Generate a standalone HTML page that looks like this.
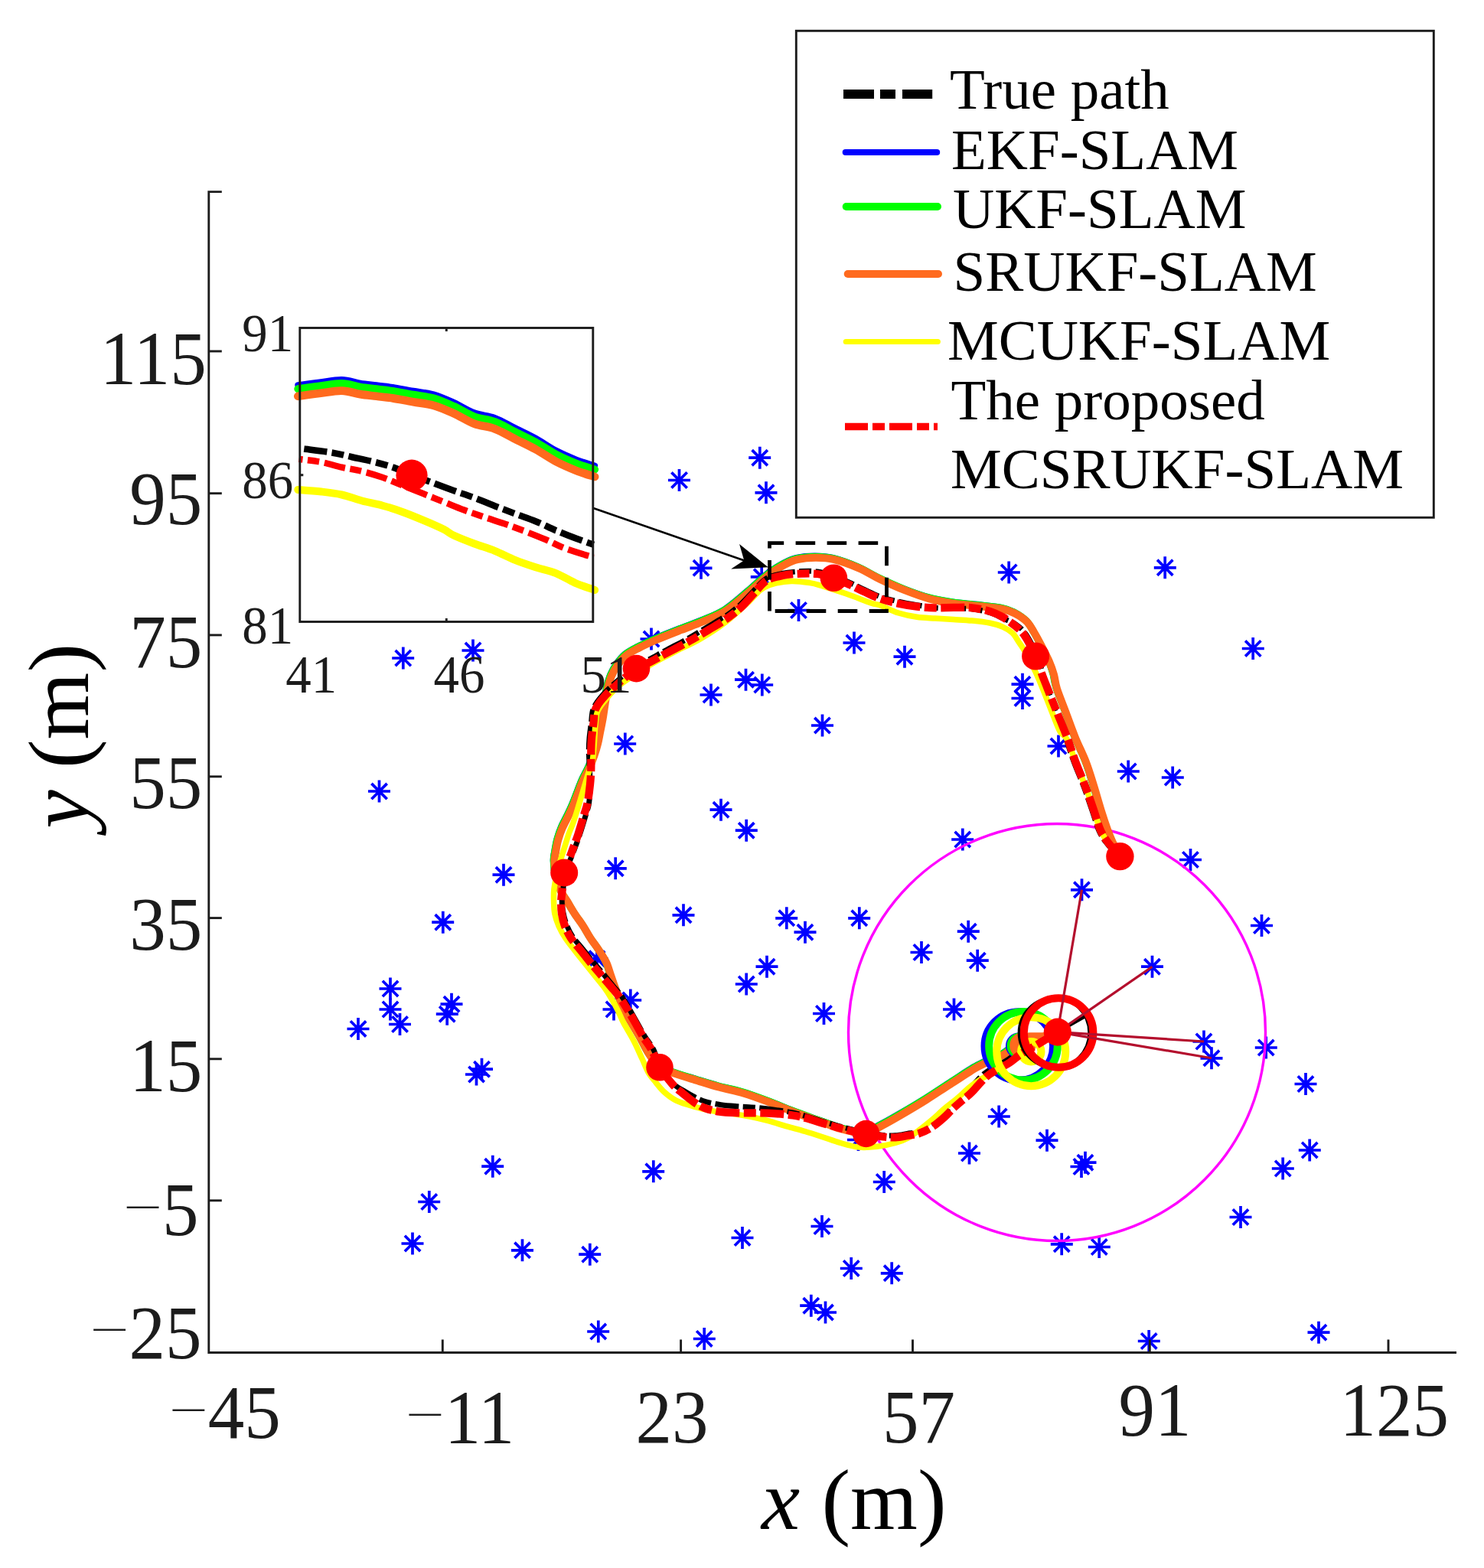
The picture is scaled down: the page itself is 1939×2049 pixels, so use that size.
<!DOCTYPE html>
<html lang="en"><head><meta charset="utf-8"><title>SLAM trajectories</title>
<style>
html,body{margin:0;padding:0;background:#fff;}
body{width:1939px;height:2049px;overflow:hidden;}
svg{display:block;}
text{font-family:"Liberation Serif","DejaVu Serif",serif;}
.tk{fill:#1c1c1c;font-size:98px;}
.ik{fill:#1c1c1c;font-size:69px;}
.lg{fill:#000;font-size:75px;}
.ax{fill:#000;font-size:113px;}
</style></head><body>
<svg width="1939" height="2049" viewBox="0 0 1939 2049" role="img" aria-label="SLAM trajectory comparison">
<rect width="1939" height="2049" fill="#fff"/>
<g id="landmarks" fill="none" stroke="#0000ff" stroke-width="3.7">
<path d="M978.2 598.2h29.0M992.8 583.8v29.0M982.6 588.1l20.30 20.30M982.6 608.4l20.30 -20.30"/>
<path d="M873.0 627.5h29.0M887.5 613.0v29.0M877.4 617.4l20.30 20.30M877.4 637.6l20.30 -20.30"/>
<path d="M986.5 643.8h29.0M1001.0 629.2v29.0M990.9 633.6l20.30 20.30M990.9 653.9l20.30 -20.30"/>
<path d="M901.5 742.3h29.0M916.0 727.8v29.0M905.9 732.1l20.30 20.30M905.9 752.4l20.30 -20.30"/>
<path d="M980.8 753.8h29.0M995.2 739.2v29.0M985.1 743.6l20.30 20.30M985.1 763.9l20.30 -20.30"/>
<path d="M1029.0 797.5h29.0M1043.5 783.0v29.0M1033.3 787.4l20.30 20.30M1033.3 807.6l20.30 -20.30"/>
<path d="M1101.5 840.0h29.0M1116.0 825.5v29.0M1105.8 829.9l20.30 20.30M1105.8 850.1l20.30 -20.30"/>
<path d="M1167.5 858.2h29.0M1182.0 843.8v29.0M1171.8 848.1l20.30 20.30M1171.8 868.4l20.30 -20.30"/>
<path d="M960.0 888.2h29.0M974.5 873.8v29.0M964.4 878.1l20.30 20.30M964.4 898.4l20.30 -20.30"/>
<path d="M981.2 895.0h29.0M995.8 880.5v29.0M985.6 884.9l20.30 20.30M985.6 905.1l20.30 -20.30"/>
<path d="M914.5 908.0h29.0M929.0 893.5v29.0M918.9 897.9l20.30 20.30M918.9 918.1l20.30 -20.30"/>
<path d="M1060.0 948.0h29.0M1074.5 933.5v29.0M1064.3 937.9l20.30 20.30M1064.3 958.1l20.30 -20.30"/>
<path d="M1303.8 748.0h29.0M1318.2 733.5v29.0M1308.1 737.9l20.30 20.30M1308.1 758.1l20.30 -20.30"/>
<path d="M1321.5 894.2h29.0M1336.0 879.8v29.0M1325.8 884.1l20.30 20.30M1325.8 904.4l20.30 -20.30"/>
<path d="M1321.5 912.5h29.0M1336.0 898.0v29.0M1325.8 902.4l20.30 20.30M1325.8 922.6l20.30 -20.30"/>
<path d="M1507.8 741.8h29.0M1522.2 727.2v29.0M1512.1 731.6l20.30 20.30M1512.1 751.9l20.30 -20.30"/>
<path d="M1622.8 847.5h29.0M1637.2 833.0v29.0M1627.1 837.4l20.30 20.30M1627.1 857.6l20.30 -20.30"/>
<path d="M1368.5 975.0h29.0M1383.0 960.5v29.0M1372.8 964.9l20.30 20.30M1372.8 985.1l20.30 -20.30"/>
<path d="M1459.8 1008.0h29.0M1474.2 993.5v29.0M1464.1 997.9l20.30 20.30M1464.1 1018.1l20.30 -20.30"/>
<path d="M1517.8 1016.0h29.0M1532.2 1001.5v29.0M1522.1 1005.9l20.30 20.30M1522.1 1026.2l20.30 -20.30"/>
<path d="M512.2 860.0h29.0M526.8 845.5v29.0M516.6 849.9l20.30 20.30M516.6 870.1l20.30 -20.30"/>
<path d="M603.5 850.0h29.0M618.0 835.5v29.0M607.9 839.9l20.30 20.30M607.9 860.1l20.30 -20.30"/>
<path d="M802.2 972.0h29.0M816.8 957.5v29.0M806.6 961.9l20.30 20.30M806.6 982.1l20.30 -20.30"/>
<path d="M836.5 835.0h29.0M851.0 820.5v29.0M840.9 824.9l20.30 20.30M840.9 845.1l20.30 -20.30"/>
<path d="M481.0 1034.0h29.0M495.5 1019.5v29.0M485.4 1023.9l20.30 20.30M485.4 1044.2l20.30 -20.30"/>
<path d="M643.5 1143.2h29.0M658.0 1128.8v29.0M647.9 1133.1l20.30 20.30M647.9 1153.4l20.30 -20.30"/>
<path d="M564.2 1205.2h29.0M578.8 1190.8v29.0M568.6 1195.1l20.30 20.30M568.6 1215.4l20.30 -20.30"/>
<path d="M789.8 1134.8h29.0M804.2 1120.2v29.0M794.1 1124.6l20.30 20.30M794.1 1144.9l20.30 -20.30"/>
<path d="M878.5 1195.8h29.0M893.0 1181.2v29.0M882.9 1185.6l20.30 20.30M882.9 1205.9l20.30 -20.30"/>
<path d="M495.5 1292.0h29.0M510.0 1277.5v29.0M499.9 1281.8l20.30 20.30M499.9 1302.2l20.30 -20.30"/>
<path d="M495.5 1319.0h29.0M510.0 1304.5v29.0M499.9 1308.8l20.30 20.30M499.9 1329.2l20.30 -20.30"/>
<path d="M508.0 1338.5h29.0M522.5 1324.0v29.0M512.4 1328.3l20.30 20.30M512.4 1348.7l20.30 -20.30"/>
<path d="M453.5 1344.5h29.0M468.0 1330.0v29.0M457.9 1334.3l20.30 20.30M457.9 1354.7l20.30 -20.30"/>
<path d="M575.5 1312.2h29.0M590.0 1297.8v29.0M579.9 1302.1l20.30 20.30M579.9 1322.4l20.30 -20.30"/>
<path d="M569.8 1325.2h29.0M584.2 1310.8v29.0M574.1 1315.1l20.30 20.30M574.1 1335.4l20.30 -20.30"/>
<path d="M615.0 1397.2h29.0M629.5 1382.8v29.0M619.4 1387.1l20.30 20.30M619.4 1407.4l20.30 -20.30"/>
<path d="M608.0 1404.0h29.0M622.5 1389.5v29.0M612.4 1393.8l20.30 20.30M612.4 1414.2l20.30 -20.30"/>
<path d="M765.5 1252.8h29.0M780.0 1238.2v29.0M769.9 1242.6l20.30 20.30M769.9 1262.9l20.30 -20.30"/>
<path d="M809.2 1307.0h29.0M823.8 1292.5v29.0M813.6 1296.8l20.30 20.30M813.6 1317.2l20.30 -20.30"/>
<path d="M787.5 1319.0h29.0M802.0 1304.5v29.0M791.9 1308.8l20.30 20.30M791.9 1329.2l20.30 -20.30"/>
<path d="M927.5 1058.2h29.0M942.0 1043.8v29.0M931.9 1048.1l20.30 20.30M931.9 1068.4l20.30 -20.30"/>
<path d="M960.8 1085.2h29.0M975.2 1070.8v29.0M965.1 1075.1l20.30 20.30M965.1 1095.4l20.30 -20.30"/>
<path d="M1243.2 1097.0h29.0M1257.8 1082.5v29.0M1247.6 1086.8l20.30 20.30M1247.6 1107.2l20.30 -20.30"/>
<path d="M1013.2 1199.8h29.0M1027.8 1185.2v29.0M1017.6 1189.6l20.30 20.30M1017.6 1209.9l20.30 -20.30"/>
<path d="M1037.5 1218.2h29.0M1052.0 1203.8v29.0M1041.8 1208.1l20.30 20.30M1041.8 1228.4l20.30 -20.30"/>
<path d="M1108.2 1199.8h29.0M1122.8 1185.2v29.0M1112.6 1189.6l20.30 20.30M1112.6 1209.9l20.30 -20.30"/>
<path d="M1250.8 1217.2h29.0M1265.2 1202.8v29.0M1255.1 1207.1l20.30 20.30M1255.1 1227.4l20.30 -20.30"/>
<path d="M1189.5 1244.5h29.0M1204.0 1230.0v29.0M1193.8 1234.3l20.30 20.30M1193.8 1254.7l20.30 -20.30"/>
<path d="M1262.8 1255.2h29.0M1277.2 1240.8v29.0M1267.1 1245.1l20.30 20.30M1267.1 1265.4l20.30 -20.30"/>
<path d="M987.5 1263.2h29.0M1002.0 1248.8v29.0M991.9 1253.1l20.30 20.30M991.9 1273.4l20.30 -20.30"/>
<path d="M960.8 1286.0h29.0M975.2 1271.5v29.0M965.1 1275.8l20.30 20.30M965.1 1296.2l20.30 -20.30"/>
<path d="M1062.0 1324.5h29.0M1076.5 1310.0v29.0M1066.3 1314.3l20.30 20.30M1066.3 1334.7l20.30 -20.30"/>
<path d="M1232.0 1319.0h29.0M1246.5 1304.5v29.0M1236.3 1308.8l20.30 20.30M1236.3 1329.2l20.30 -20.30"/>
<path d="M1290.8 1459.0h29.0M1305.2 1444.5v29.0M1295.1 1448.8l20.30 20.30M1295.1 1469.2l20.30 -20.30"/>
<path d="M1252.0 1507.0h29.0M1266.5 1492.5v29.0M1256.3 1496.8l20.30 20.30M1256.3 1517.2l20.30 -20.30"/>
<path d="M1107.0 1489.5h29.0M1121.5 1475.0v29.0M1111.3 1479.3l20.30 20.30M1111.3 1499.7l20.30 -20.30"/>
<path d="M1541.0 1123.5h29.0M1555.5 1109.0v29.0M1545.3 1113.3l20.30 20.30M1545.3 1133.7l20.30 -20.30"/>
<path d="M1399.0 1162.8h29.0M1413.5 1148.2v29.0M1403.3 1152.6l20.30 20.30M1403.3 1172.9l20.30 -20.30"/>
<path d="M1634.0 1209.5h29.0M1648.5 1195.0v29.0M1638.3 1199.3l20.30 20.30M1638.3 1219.7l20.30 -20.30"/>
<path d="M1491.0 1263.2h29.0M1505.5 1248.8v29.0M1495.3 1253.1l20.30 20.30M1495.3 1273.4l20.30 -20.30"/>
<path d="M1558.5 1361.0h29.0M1573.0 1346.5v29.0M1562.8 1350.8l20.30 20.30M1562.8 1371.2l20.30 -20.30"/>
<path d="M1568.5 1382.8h29.0M1583.0 1368.2v29.0M1572.8 1372.6l20.30 20.30M1572.8 1392.9l20.30 -20.30"/>
<path d="M1639.8 1369.0h29.0M1654.2 1354.5v29.0M1644.1 1358.8l20.30 20.30M1644.1 1379.2l20.30 -20.30"/>
<path d="M1691.5 1416.5h29.0M1706.0 1402.0v29.0M1695.8 1406.3l20.30 20.30M1695.8 1426.7l20.30 -20.30"/>
<path d="M1353.5 1490.2h29.0M1368.0 1475.8v29.0M1357.8 1480.1l20.30 20.30M1357.8 1500.4l20.30 -20.30"/>
<path d="M629.2 1524.2h29.0M643.8 1509.8v29.0M633.6 1514.1l20.30 20.30M633.6 1534.4l20.30 -20.30"/>
<path d="M546.2 1570.5h29.0M560.8 1556.0v29.0M550.6 1560.3l20.30 20.30M550.6 1580.7l20.30 -20.30"/>
<path d="M524.5 1625.0h29.0M539.0 1610.5v29.0M528.9 1614.8l20.30 20.30M528.9 1635.2l20.30 -20.30"/>
<path d="M668.0 1633.8h29.0M682.5 1619.2v29.0M672.4 1623.6l20.30 20.30M672.4 1643.9l20.30 -20.30"/>
<path d="M756.2 1639.2h29.0M770.8 1624.8v29.0M760.6 1629.1l20.30 20.30M760.6 1649.4l20.30 -20.30"/>
<path d="M839.2 1530.8h29.0M853.8 1516.2v29.0M843.6 1520.6l20.30 20.30M843.6 1540.9l20.30 -20.30"/>
<path d="M767.2 1740.0h29.0M781.8 1725.5v29.0M771.6 1729.8l20.30 20.30M771.6 1750.2l20.30 -20.30"/>
<path d="M1140.8 1544.5h29.0M1155.2 1530.0v29.0M1145.1 1534.3l20.30 20.30M1145.1 1554.7l20.30 -20.30"/>
<path d="M1059.5 1602.5h29.0M1074.0 1588.0v29.0M1063.8 1592.3l20.30 20.30M1063.8 1612.7l20.30 -20.30"/>
<path d="M955.5 1617.5h29.0M970.0 1603.0v29.0M959.9 1607.3l20.30 20.30M959.9 1627.7l20.30 -20.30"/>
<path d="M1097.8 1657.5h29.0M1112.2 1643.0v29.0M1102.1 1647.3l20.30 20.30M1102.1 1667.7l20.30 -20.30"/>
<path d="M1150.8 1663.8h29.0M1165.2 1649.2v29.0M1155.1 1653.6l20.30 20.30M1155.1 1673.9l20.30 -20.30"/>
<path d="M1045.2 1706.2h29.0M1059.8 1691.8v29.0M1049.6 1696.1l20.30 20.30M1049.6 1716.4l20.30 -20.30"/>
<path d="M1064.0 1715.0h29.0M1078.5 1700.5v29.0M1068.3 1704.8l20.30 20.30M1068.3 1725.2l20.30 -20.30"/>
<path d="M905.8 1749.5h29.0M920.2 1735.0v29.0M910.1 1739.3l20.30 20.30M910.1 1759.7l20.30 -20.30"/>
<path d="M1403.5 1519.2h29.0M1418.0 1504.8v29.0M1407.8 1509.1l20.30 20.30M1407.8 1529.4l20.30 -20.30"/>
<path d="M1398.5 1524.5h29.0M1413.0 1510.0v29.0M1402.8 1514.3l20.30 20.30M1402.8 1534.7l20.30 -20.30"/>
<path d="M1696.8 1503.0h29.0M1711.2 1488.5v29.0M1701.1 1492.8l20.30 20.30M1701.1 1513.2l20.30 -20.30"/>
<path d="M1661.8 1527.0h29.0M1676.2 1512.5v29.0M1666.1 1516.8l20.30 20.30M1666.1 1537.2l20.30 -20.30"/>
<path d="M1606.5 1590.5h29.0M1621.0 1576.0v29.0M1610.8 1580.3l20.30 20.30M1610.8 1600.7l20.30 -20.30"/>
<path d="M1372.8 1625.8h29.0M1387.2 1611.2v29.0M1377.1 1615.6l20.30 20.30M1377.1 1635.9l20.30 -20.30"/>
<path d="M1421.8 1629.5h29.0M1436.2 1615.0v29.0M1426.1 1619.3l20.30 20.30M1426.1 1639.7l20.30 -20.30"/>
<path d="M1486.8 1752.5h29.0M1501.2 1738.0v29.0M1491.1 1742.3l20.30 20.30M1491.1 1762.7l20.30 -20.30"/>
<path d="M1708.5 1741.2h29.0M1723.0 1726.8v29.0M1712.8 1731.1l20.30 20.30M1712.8 1751.4l20.30 -20.30"/>
</g>
<circle cx="1381.0" cy="1349.0" r="272.5" fill="none" stroke="#ff00ff" stroke-width="3.4"/>
<g stroke="#1c1c1c" stroke-width="2.9" fill="none" stroke-linecap="butt">
<path d="M289.8 250.6 H272.8 V1767.5 H1903.0"/>
<path d="M272.8 459.0 h17.0"/>
<path d="M272.8 644.7 h17.0"/>
<path d="M272.8 829.9 h17.0"/>
<path d="M272.8 1014.8 h17.0"/>
<path d="M272.8 1199.6 h17.0"/>
<path d="M272.8 1383.8 h17.0"/>
<path d="M272.8 1568.8 h17.0"/>
<path d="M578.3 1767.5 v-17.0"/>
<path d="M889.6 1767.5 v-17.0"/>
<path d="M1192.5 1767.5 v-17.0"/>
<path d="M1502.3 1767.5 v-17.0"/>
<path d="M1814.0 1767.5 v-17.0"/>
</g>
<text class="tk" transform="translate(269.7 502.0) scale(0.97 1.015)" text-anchor="end">115</text>
<text class="tk" transform="translate(264.3 685.0) scale(0.97 1.015)" text-anchor="end">95</text>
<text class="tk" transform="translate(264.3 871.5) scale(0.97 1.015)" text-anchor="end">75</text>
<text class="tk" transform="translate(264.3 1056.3) scale(0.97 1.015)" text-anchor="end">55</text>
<text class="tk" transform="translate(264.3 1241.0) scale(0.97 1.015)" text-anchor="end">35</text>
<text class="tk" transform="translate(264.3 1426.4) scale(0.97 1.015)" text-anchor="end">15</text>
<text class="tk" transform="translate(259.5 1614.1) scale(0.97 1.015)" text-anchor="end"><tspan dy="-3.5" stroke="#fff" stroke-width="2.4">−</tspan><tspan dy="3.5" dx="-1.5">5</tspan></text>
<text class="tk" transform="translate(263.5 1774.9) scale(0.97 1.015)" text-anchor="end"><tspan dy="-3.5" stroke="#fff" stroke-width="2.4">−</tspan><tspan dy="3.5" dx="-1.5">25</tspan></text>
<text class="tk" transform="translate(219.5 1879.3) scale(0.97 1.015)" text-anchor="start"><tspan dy="-3.5" stroke="#fff" stroke-width="2.4">−</tspan><tspan dy="3.5" dx="-1.5">45</tspan></text>
<text class="tk" transform="translate(528.5 1886.0) scale(0.97 1.015)" text-anchor="start"><tspan dy="-3.5" stroke="#fff" stroke-width="2.4">−</tspan><tspan dy="3.5" dx="-1.5">11</tspan></text>
<text class="tk" transform="translate(830.6 1884.8) scale(0.97 1.015)" text-anchor="start">23</text>
<text class="tk" transform="translate(1153.0 1884.6) scale(0.97 1.015)" text-anchor="start">57</text>
<text class="tk" transform="translate(1461.5 1875.8) scale(0.97 1.015)" text-anchor="start">91</text>
<text class="tk" transform="translate(1750.5 1875.8) scale(0.97 1.015)" text-anchor="start">125</text>
<text class="ax" x="995" y="1998.2"><tspan font-style="italic">x</tspan> (m)</text><text class="ax" transform="translate(115.1 1082.5) rotate(-90)"><tspan font-style="italic">y</tspan> (m)</text>
<path d="M1461.8 1116.9C1460.2 1113.7 1454.6 1103.6 1451.9 1097.8C1449.2 1092.0 1447.8 1088.5 1445.4 1081.8C1443.0 1075.1 1440.3 1067.1 1437.4 1057.8C1434.5 1048.5 1431.2 1036.5 1427.9 1025.8C1424.6 1015.1 1421.5 1004.5 1417.4 993.8C1413.3 983.1 1407.7 972.5 1403.4 961.8C1399.1 951.1 1395.4 940.5 1391.4 929.8C1387.4 919.1 1382.1 906.2 1379.4 897.8C1376.7 889.4 1377.1 885.3 1375.4 879.3C1373.7 873.3 1372.0 868.5 1369.1 861.8C1366.2 855.1 1361.1 845.5 1357.9 839.3C1354.7 833.1 1352.8 829.6 1349.9 824.8C1347.0 820.0 1344.7 814.8 1340.4 810.5C1336.2 806.2 1329.7 802.1 1324.4 799.3C1319.1 796.5 1316.4 795.4 1308.4 793.8C1300.4 792.2 1287.1 791.0 1276.4 789.8C1265.7 788.6 1255.1 788.1 1244.4 786.5C1233.7 784.9 1223.1 783.0 1212.4 780.1C1201.7 777.2 1191.1 773.2 1180.4 769.0C1169.7 764.8 1158.4 759.6 1148.4 754.8C1138.4 750.0 1130.4 744.5 1120.4 740.2C1110.4 735.9 1097.7 731.3 1088.4 729.0C1079.1 726.7 1072.4 726.6 1064.4 726.6C1056.4 726.6 1047.1 727.5 1040.4 729.0C1033.7 730.5 1029.7 732.7 1024.4 735.4C1019.1 738.1 1013.7 741.3 1008.4 745.0C1003.1 748.7 997.7 753.3 992.4 757.8C987.1 762.3 984.1 765.8 976.4 772.2C968.7 778.6 956.4 789.9 946.4 796.3C936.4 802.6 926.1 806.2 916.4 810.3C906.7 814.4 898.3 817.1 888.3 821.0C878.3 824.9 865.6 829.8 856.3 833.8C847.0 837.8 839.0 841.5 832.3 845.0C825.6 848.5 820.8 850.9 816.3 854.6C811.8 858.3 808.3 862.9 805.1 867.4C801.9 871.9 799.2 876.7 797.1 881.8C795.0 886.9 793.6 891.9 792.3 897.8C791.0 903.6 790.2 910.2 789.1 916.9C788.0 923.5 787.0 931.6 785.9 937.7C784.8 943.8 783.8 948.4 782.7 953.7C781.6 959.0 780.8 964.4 779.5 969.7C778.2 975.0 776.6 980.4 774.7 985.7C772.8 991.0 770.7 996.4 768.3 1001.7C765.9 1007.0 762.7 1012.4 760.3 1017.7C757.9 1023.0 756.0 1028.4 753.9 1033.7C751.8 1039.0 749.7 1044.7 747.6 1049.7C745.5 1054.7 743.6 1058.8 741.2 1063.8C738.8 1068.8 735.5 1074.5 733.2 1079.8C730.9 1085.1 729.1 1090.5 727.6 1095.8C726.1 1101.1 725.2 1107.0 724.4 1111.8C723.6 1116.6 722.6 1118.9 722.8 1124.6C723.0 1130.3 723.9 1139.4 725.4 1145.8C726.9 1152.2 729.2 1157.9 731.6 1162.9C734.0 1167.9 736.7 1170.9 739.6 1175.7C742.5 1180.5 745.8 1186.4 749.2 1191.7C752.6 1197.0 756.8 1202.4 760.3 1207.7C763.8 1213.0 766.4 1218.4 769.9 1223.7C773.4 1229.0 777.6 1234.4 781.1 1239.7C784.6 1245.0 788.2 1250.4 790.7 1255.7C793.2 1261.0 794.4 1266.4 796.3 1271.7C798.2 1277.0 799.9 1282.4 801.9 1287.7C803.9 1293.0 806.2 1298.4 808.3 1303.7C810.4 1309.0 812.3 1314.9 814.7 1319.7C817.0 1324.5 819.1 1327.2 822.4 1332.8C825.7 1338.3 830.5 1346.2 834.4 1353.0C838.3 1359.8 841.3 1367.2 845.6 1373.8C849.9 1380.4 854.5 1388.1 860.4 1392.6C866.3 1397.1 873.1 1398.2 880.8 1400.9C888.4 1403.6 896.7 1406.0 906.3 1408.9C915.9 1411.8 927.6 1415.6 938.3 1418.5C949.0 1421.4 959.6 1423.3 970.3 1426.5C981.0 1429.7 991.6 1433.7 1002.3 1437.7C1013.0 1441.7 1025.0 1446.9 1034.3 1450.5C1043.6 1454.1 1051.0 1456.7 1058.3 1459.3C1065.7 1461.9 1072.1 1464.0 1078.4 1466.3C1084.8 1468.5 1090.2 1471.0 1096.4 1472.8C1102.6 1474.6 1109.8 1476.2 1115.4 1477.3C1121.0 1478.4 1124.1 1480.7 1130.0 1479.3C1135.9 1477.9 1143.0 1473.0 1150.7 1468.9C1158.4 1464.8 1166.7 1460.1 1176.3 1454.5C1185.9 1448.9 1197.6 1442.0 1208.3 1435.3C1219.0 1428.6 1229.7 1421.3 1240.3 1414.5C1250.9 1407.7 1264.2 1398.8 1271.7 1394.3C1279.2 1389.8 1280.7 1389.6 1285.1 1387.4C1289.6 1385.2 1294.3 1383.2 1298.4 1381.3C1302.5 1379.4 1306.3 1378.1 1309.6 1376.2C1312.9 1374.3 1315.8 1372.0 1318.4 1369.8C1321.0 1367.6 1322.7 1365.2 1325.0 1362.8C1327.3 1360.4 1331.2 1356.5 1332.4 1355.3" fill="none" stroke="#0000ff" stroke-width="8" stroke-linejoin="round" />
<path d="M1462.4 1117.7C1460.8 1114.5 1455.2 1104.4 1452.5 1098.6C1449.8 1092.8 1448.4 1089.3 1446.0 1082.6C1443.6 1075.9 1440.9 1067.9 1438.0 1058.6C1435.1 1049.3 1431.8 1037.3 1428.5 1026.6C1425.2 1015.9 1422.1 1005.3 1418.0 994.6C1413.9 983.9 1408.3 973.3 1404.0 962.6C1399.7 951.9 1396.0 941.3 1392.0 930.6C1388.0 919.9 1382.7 907.0 1380.0 898.6C1377.3 890.2 1377.7 886.1 1376.0 880.1C1374.3 874.1 1372.6 869.3 1369.7 862.6C1366.8 855.9 1361.7 846.3 1358.5 840.1C1355.3 833.9 1353.4 830.4 1350.5 825.6C1347.6 820.8 1345.2 815.6 1341.0 811.3C1336.8 807.1 1330.3 802.9 1325.0 800.1C1319.7 797.3 1317.0 796.2 1309.0 794.6C1301.0 793.0 1287.7 791.8 1277.0 790.6C1266.3 789.4 1255.7 788.9 1245.0 787.3C1234.3 785.7 1223.7 783.8 1213.0 780.9C1202.3 778.0 1191.7 774.0 1181.0 769.8C1170.3 765.6 1159.0 760.4 1149.0 755.6C1139.0 750.8 1131.0 745.3 1121.0 741.0C1111.0 736.7 1098.3 732.1 1089.0 729.8C1079.7 727.5 1073.0 727.4 1065.0 727.4C1057.0 727.4 1047.7 728.3 1041.0 729.8C1034.3 731.3 1030.3 733.5 1025.0 736.2C1019.7 738.9 1014.3 742.1 1009.0 745.8C1003.7 749.5 998.3 754.1 993.0 758.6C987.7 763.1 984.7 766.6 977.0 773.0C969.3 779.4 957.0 790.8 947.0 797.1C937.0 803.5 926.7 807.0 917.0 811.1C907.3 815.2 898.9 817.9 888.9 821.8C878.9 825.7 866.2 830.6 856.9 834.6C847.6 838.6 839.6 842.3 832.9 845.8C826.2 849.3 821.4 851.7 816.9 855.4C812.4 859.1 808.9 863.7 805.7 868.2C802.5 872.7 799.8 877.5 797.7 882.6C795.6 887.7 794.2 892.8 792.9 898.6C791.6 904.5 790.8 911.1 789.7 917.7C788.6 924.4 787.6 932.4 786.5 938.5C785.4 944.6 784.4 949.2 783.3 954.5C782.2 959.8 781.4 965.2 780.1 970.5C778.8 975.8 777.2 981.2 775.3 986.5C773.4 991.8 771.3 997.2 768.9 1002.5C766.5 1007.8 763.3 1013.2 760.9 1018.5C758.5 1023.8 756.6 1029.2 754.5 1034.5C752.4 1039.8 750.3 1045.5 748.2 1050.5C746.1 1055.5 744.2 1059.6 741.8 1064.6C739.4 1069.6 736.1 1075.3 733.8 1080.6C731.5 1085.9 729.7 1091.3 728.2 1096.6C726.7 1101.9 725.8 1107.8 725.0 1112.6C724.2 1117.4 723.2 1119.7 723.4 1125.4C723.6 1131.1 724.5 1140.2 726.0 1146.6C727.5 1153.0 729.8 1158.7 732.2 1163.7C734.6 1168.7 737.3 1171.7 740.2 1176.5C743.1 1181.3 746.3 1187.2 749.8 1192.5C753.2 1197.8 757.4 1203.2 760.9 1208.5C764.4 1213.8 767.0 1219.2 770.5 1224.5C774.0 1229.8 778.2 1235.2 781.7 1240.5C785.2 1245.8 788.8 1251.2 791.3 1256.5C793.8 1261.8 795.0 1267.2 796.9 1272.5C798.8 1277.8 800.5 1283.2 802.5 1288.5C804.5 1293.8 806.8 1299.2 808.9 1304.5C811.0 1309.8 812.9 1315.7 815.3 1320.5C817.6 1325.3 819.7 1328.0 823.0 1333.6C826.3 1339.1 831.1 1347.0 835.0 1353.8C838.9 1360.6 841.9 1368.0 846.2 1374.6C850.5 1381.2 855.1 1388.9 861.0 1393.4C866.9 1397.9 873.8 1399.0 881.4 1401.7C889.0 1404.4 897.3 1406.8 906.9 1409.7C916.5 1412.6 928.2 1416.4 938.9 1419.3C949.6 1422.2 960.2 1424.1 970.9 1427.3C981.6 1430.5 992.2 1434.5 1002.9 1438.5C1013.6 1442.5 1025.6 1447.7 1034.9 1451.3C1044.2 1454.9 1051.6 1457.5 1058.9 1460.1C1066.2 1462.7 1072.7 1464.8 1079.0 1467.1C1085.3 1469.3 1090.8 1471.8 1097.0 1473.6C1103.2 1475.4 1110.4 1477.0 1116.0 1478.1C1121.6 1479.2 1124.7 1481.5 1130.6 1480.1C1136.5 1478.7 1143.6 1473.8 1151.3 1469.7C1159.0 1465.6 1167.3 1460.9 1176.9 1455.3C1186.5 1449.7 1198.2 1442.8 1208.9 1436.1C1219.6 1429.4 1230.3 1422.1 1240.9 1415.3C1251.5 1408.5 1264.8 1399.6 1272.3 1395.1C1279.8 1390.6 1281.2 1390.4 1285.7 1388.2C1290.2 1386.0 1294.9 1384.0 1299.0 1382.1C1303.1 1380.2 1306.9 1378.9 1310.2 1377.0C1313.5 1375.1 1316.4 1372.8 1319.0 1370.6C1321.6 1368.4 1323.3 1366.0 1325.6 1363.6C1327.9 1361.2 1331.8 1357.3 1333.0 1356.1" fill="none" stroke="#00ff00" stroke-width="9.5" stroke-linejoin="round" />
<path d="M1463.4 1119.1C1461.8 1115.9 1456.2 1105.8 1453.5 1100.0C1450.8 1094.2 1449.4 1090.7 1447.0 1084.0C1444.6 1077.3 1441.9 1069.3 1439.0 1060.0C1436.1 1050.7 1432.8 1038.7 1429.5 1028.0C1426.2 1017.3 1423.1 1006.7 1419.0 996.0C1414.9 985.3 1409.3 974.7 1405.0 964.0C1400.7 953.3 1397.0 942.7 1393.0 932.0C1389.0 921.3 1383.7 908.4 1381.0 900.0C1378.3 891.6 1378.7 887.5 1377.0 881.5C1375.3 875.5 1373.6 870.7 1370.7 864.0C1367.8 857.3 1362.7 847.7 1359.5 841.5C1356.3 835.3 1354.4 831.8 1351.5 827.0C1348.6 822.2 1346.2 817.0 1342.0 812.7C1337.8 808.5 1331.3 804.3 1326.0 801.5C1320.7 798.7 1318.0 797.6 1310.0 796.0C1302.0 794.4 1288.7 793.2 1278.0 792.0C1267.3 790.8 1256.7 790.3 1246.0 788.7C1235.3 787.1 1224.7 785.2 1214.0 782.3C1203.3 779.4 1192.7 775.4 1182.0 771.2C1171.3 767.0 1160.0 761.8 1150.0 757.0C1140.0 752.2 1132.0 746.7 1122.0 742.4C1112.0 738.1 1099.3 733.5 1090.0 731.2C1080.7 728.9 1074.0 728.8 1066.0 728.8C1058.0 728.8 1048.7 729.7 1042.0 731.2C1035.3 732.7 1031.3 734.9 1026.0 737.6C1020.7 740.3 1015.3 743.5 1010.0 747.2C1004.7 750.9 999.3 755.5 994.0 760.0C988.7 764.5 985.7 768.0 978.0 774.4C970.3 780.8 958.0 792.1 948.0 798.5C938.0 804.9 927.7 808.4 918.0 812.5C908.3 816.6 899.9 819.3 889.9 823.2C879.9 827.1 867.2 832.0 857.9 836.0C848.6 840.0 840.6 843.7 833.9 847.2C827.2 850.7 822.4 853.1 817.9 856.8C813.4 860.5 809.9 865.1 806.7 869.6C803.5 874.1 800.8 878.9 798.7 884.0C796.6 889.1 795.2 894.1 793.9 900.0C792.6 905.9 791.8 912.5 790.7 919.1C789.6 925.8 788.6 933.8 787.5 939.9C786.4 946.0 785.4 950.6 784.3 955.9C783.2 961.2 782.4 966.6 781.1 971.9C779.8 977.2 778.2 982.6 776.3 987.9C774.4 993.2 772.3 998.6 769.9 1003.9C767.5 1009.2 764.3 1014.6 761.9 1019.9C759.5 1025.2 757.6 1030.6 755.5 1035.9C753.4 1041.2 751.3 1046.9 749.2 1051.9C747.1 1056.9 745.2 1061.0 742.8 1066.0C740.4 1071.0 737.1 1076.7 734.8 1082.0C732.5 1087.3 730.7 1092.7 729.2 1098.0C727.7 1103.3 726.8 1109.2 726.0 1114.0C725.2 1118.8 724.2 1121.1 724.4 1126.8C724.6 1132.5 725.5 1141.6 727.0 1148.0C728.5 1154.4 730.8 1160.1 733.2 1165.1C735.6 1170.1 738.3 1173.1 741.2 1177.9C744.1 1182.7 747.3 1188.6 750.8 1193.9C754.2 1199.2 758.4 1204.6 761.9 1209.9C765.4 1215.2 768.0 1220.6 771.5 1225.9C775.0 1231.2 779.2 1236.6 782.7 1241.9C786.2 1247.2 789.8 1252.6 792.3 1257.9C794.8 1263.2 796.0 1268.6 797.9 1273.9C799.8 1279.2 801.5 1284.6 803.5 1289.9C805.5 1295.2 807.8 1300.6 809.9 1305.9C812.0 1311.2 813.9 1317.1 816.3 1321.9C818.6 1326.8 820.7 1329.5 824.0 1335.0C827.3 1340.5 832.1 1348.4 836.0 1355.2C839.9 1362.0 842.9 1369.4 847.2 1376.0C851.5 1382.6 856.1 1390.3 862.0 1394.8C867.9 1399.3 874.8 1400.4 882.4 1403.1C890.0 1405.8 898.3 1408.2 907.9 1411.1C917.5 1414.0 929.2 1417.8 939.9 1420.7C950.6 1423.6 961.2 1425.5 971.9 1428.7C982.6 1431.9 993.2 1435.9 1003.9 1439.9C1014.6 1443.9 1026.6 1449.1 1035.9 1452.7C1045.2 1456.3 1052.6 1458.9 1059.9 1461.5C1067.2 1464.1 1073.7 1466.2 1080.0 1468.5C1086.3 1470.8 1091.8 1473.2 1098.0 1475.0C1104.2 1476.8 1111.4 1478.4 1117.0 1479.5C1122.6 1480.6 1125.7 1482.9 1131.6 1481.5C1137.5 1480.1 1144.6 1475.2 1152.3 1471.1C1160.0 1467.0 1168.3 1462.3 1177.9 1456.7C1187.5 1451.1 1199.2 1444.2 1209.9 1437.5C1220.6 1430.8 1231.3 1423.5 1241.9 1416.7C1252.5 1409.9 1265.8 1401.0 1273.3 1396.5C1280.8 1392.0 1282.2 1391.8 1286.7 1389.6C1291.2 1387.4 1295.9 1385.4 1300.0 1383.5C1304.1 1381.6 1307.9 1380.3 1311.2 1378.4C1314.5 1376.5 1317.4 1374.2 1320.0 1372.0C1322.6 1369.8 1324.3 1367.4 1326.6 1365.0C1328.9 1362.6 1331.4 1359.2 1334.0 1357.5C1336.6 1355.8 1339.0 1355.0 1342.0 1354.5C1345.0 1354.0 1348.2 1354.4 1352.0 1354.3C1355.8 1354.2 1361.0 1354.5 1365.0 1354.0C1369.0 1353.5 1374.2 1351.5 1376.0 1351.0" fill="none" stroke="#ff6a1e" stroke-width="10" stroke-linejoin="round" />
<path d="M1461.4 1119.6C1458.7 1116.4 1449.3 1106.3 1445.0 1100.5C1440.7 1094.7 1438.4 1091.2 1435.5 1084.5C1432.6 1077.8 1430.7 1069.8 1427.5 1060.5C1424.3 1051.2 1420.3 1039.2 1416.3 1028.5C1412.3 1017.8 1407.5 1007.2 1403.5 996.5C1399.5 985.8 1396.3 975.2 1392.4 964.5C1388.5 953.8 1384.0 943.2 1380.1 932.5C1376.2 921.8 1371.7 908.8 1368.8 900.0C1365.9 891.2 1364.8 887.2 1362.5 880.0C1360.2 872.8 1358.7 865.5 1355.1 857.0C1351.5 848.5 1345.3 836.1 1340.7 829.3C1336.1 822.5 1332.6 819.6 1327.5 816.0C1322.4 812.4 1315.6 810.4 1310.0 807.8C1304.4 805.2 1300.7 802.6 1294.0 800.6C1287.3 798.6 1278.0 796.7 1270.0 795.8C1262.0 794.9 1254.0 795.6 1246.0 795.4C1238.0 795.1 1230.0 795.1 1222.0 794.3C1214.0 793.5 1206.0 792.1 1198.0 790.7C1190.0 789.4 1182.0 788.0 1174.0 786.2C1166.0 784.4 1157.5 782.4 1150.0 779.8C1142.5 777.1 1135.4 773.3 1128.8 770.3C1122.2 767.2 1117.1 764.4 1110.5 761.5C1103.9 758.6 1096.5 755.1 1089.4 752.7C1082.3 750.3 1075.2 748.0 1068.0 747.0C1060.8 746.0 1053.9 746.2 1046.2 746.6C1038.5 747.0 1029.3 747.9 1021.7 749.5C1014.1 751.1 1006.7 752.6 1000.5 756.4C994.3 760.2 989.9 766.9 984.5 772.4C979.1 777.9 973.8 784.3 968.0 789.5C962.2 794.7 957.3 798.8 950.0 803.8C942.7 808.8 932.4 814.5 924.0 819.5C915.6 824.5 908.2 829.3 899.6 834.1C891.0 838.9 880.9 844.0 872.4 848.5C863.9 853.0 855.9 857.6 848.9 861.3C841.9 865.0 838.8 864.8 830.5 870.6C822.2 876.4 807.1 889.4 799.4 896.3C791.7 903.1 788.6 906.6 784.5 911.7C780.4 916.8 776.9 921.6 774.9 927.1C772.9 932.6 773.3 938.6 772.5 944.7C771.7 950.8 770.6 958.0 770.1 963.9C769.6 969.8 769.3 973.2 769.3 979.9C769.3 986.6 770.0 996.4 770.3 1003.9C770.6 1011.4 771.1 1017.3 771.0 1025.0C770.9 1032.7 770.5 1043.2 769.5 1050.0C768.5 1056.8 767.1 1059.0 765.2 1065.5C763.3 1072.0 760.6 1081.1 758.0 1089.0C755.4 1096.9 752.4 1104.6 749.3 1113.0C746.2 1121.4 741.5 1131.2 739.2 1139.4C737.0 1147.6 736.6 1155.6 735.8 1162.0C735.0 1168.4 734.2 1172.8 734.2 1177.9C734.2 1183.1 735.0 1187.7 736.0 1192.9C737.0 1198.1 738.4 1203.7 740.5 1208.9C742.6 1214.2 745.0 1219.2 748.5 1224.4C752.0 1229.6 757.0 1234.7 761.2 1239.9C765.5 1245.2 769.6 1250.6 774.0 1255.9C778.4 1261.2 783.1 1266.5 787.6 1271.9C792.1 1277.3 796.8 1283.0 801.2 1288.4C805.6 1293.8 809.9 1298.3 814.0 1304.4C818.1 1310.5 822.5 1318.9 826.0 1325.0C829.5 1331.1 832.2 1336.0 835.0 1341.0C837.8 1346.0 839.8 1349.9 843.0 1355.0C846.2 1360.1 850.7 1365.2 854.0 1371.8C857.3 1378.3 858.6 1386.8 863.0 1394.3C867.4 1401.8 875.0 1411.3 880.2 1416.5C885.4 1421.7 889.3 1422.8 894.0 1425.7C898.7 1428.6 903.5 1431.5 908.3 1433.9C913.1 1436.3 917.1 1438.3 922.7 1439.9C928.3 1441.5 935.0 1442.7 941.9 1443.7C948.8 1444.7 956.2 1445.2 963.9 1445.8C971.6 1446.4 979.9 1446.6 987.9 1447.3C995.9 1448.0 1003.9 1449.0 1011.9 1450.1C1019.9 1451.2 1028.8 1452.5 1035.9 1454.0C1043.0 1455.5 1048.3 1457.2 1054.5 1459.0C1060.7 1460.8 1065.9 1462.9 1073.0 1465.0C1080.1 1467.1 1089.8 1469.9 1097.0 1471.8C1104.2 1473.7 1110.4 1475.3 1116.2 1476.6C1122.0 1477.9 1125.3 1478.3 1131.6 1479.5C1137.9 1480.7 1147.6 1482.8 1154.0 1483.5C1160.4 1484.2 1164.8 1484.1 1170.0 1483.8C1175.2 1483.5 1180.3 1482.3 1185.5 1481.4C1190.7 1480.5 1195.8 1480.2 1201.0 1478.2C1206.2 1476.2 1211.3 1473.2 1216.5 1469.7C1221.7 1466.2 1227.7 1460.9 1232.0 1456.9C1236.3 1452.9 1238.8 1449.5 1242.6 1445.7C1246.4 1441.9 1251.0 1437.6 1254.9 1434.0C1258.8 1430.4 1261.2 1428.9 1266.1 1423.9C1271.0 1418.9 1278.8 1409.2 1284.5 1404.2C1290.2 1399.2 1294.8 1397.1 1300.0 1394.0C1305.2 1390.9 1310.3 1388.8 1315.6 1385.5C1320.8 1382.2 1324.8 1378.1 1331.5 1374.3C1338.2 1370.5 1347.6 1366.8 1356.0 1362.5C1364.4 1358.2 1377.5 1350.9 1381.8 1348.6" fill="none" stroke="#000000" stroke-width="7" stroke-linejoin="round" pathLength="2061.6" stroke-dasharray="31 5.5 16 5.5" stroke-dashoffset="1"/>
<circle cx="1331.0" cy="1366.6" r="12.0" fill="none" stroke="#0000ff" stroke-width="10"/>
<circle cx="1331.3" cy="1367.0" r="44.8" fill="none" stroke="#0000ff" stroke-width="10"/>
<circle cx="1332.6" cy="1366.6" r="12.0" fill="none" stroke="#00ff00" stroke-width="10"/>
<circle cx="1337.0" cy="1366.7" r="44.8" fill="none" stroke="#00ff00" stroke-width="10"/>
<circle cx="1336.3" cy="1366.2" r="12.0" fill="none" stroke="#ff6a1e" stroke-width="10"/>
<path d="M1463.4 1119.1C1460.7 1115.9 1451.3 1105.8 1447.0 1100.0C1442.7 1094.2 1440.4 1090.7 1437.5 1084.0C1434.6 1077.3 1432.7 1069.3 1429.5 1060.0C1426.3 1050.7 1422.3 1038.7 1418.3 1028.0C1414.3 1017.3 1409.5 1006.3 1405.5 996.0C1401.5 985.7 1397.4 972.7 1394.0 966.0C1390.6 959.3 1388.2 961.7 1385.0 956.0C1381.8 950.3 1378.8 941.3 1375.0 932.0C1371.2 922.7 1366.1 909.0 1362.4 900.0C1358.8 891.0 1356.0 884.6 1353.1 878.3C1350.2 872.0 1347.7 867.1 1345.0 862.0C1342.3 856.9 1339.5 851.9 1337.1 847.9C1334.7 843.9 1333.1 841.8 1330.7 838.3C1328.3 834.8 1326.2 830.3 1322.7 827.1C1319.2 823.9 1314.8 821.2 1310.0 819.1C1305.2 817.0 1300.7 815.6 1294.0 814.3C1287.3 813.0 1278.0 811.9 1270.0 811.1C1262.0 810.3 1254.0 810.0 1246.0 809.5C1238.0 809.0 1230.0 808.5 1222.0 808.0C1214.0 807.5 1206.0 807.5 1198.0 806.3C1190.0 805.1 1182.0 803.5 1174.0 801.0C1166.0 798.5 1156.0 793.2 1150.0 791.0C1144.0 788.8 1145.3 790.5 1138.0 788.0C1130.7 785.5 1116.7 779.7 1106.0 776.0C1095.3 772.3 1082.0 768.0 1074.0 765.6C1066.0 763.2 1064.7 762.6 1058.0 761.6C1051.3 760.6 1042.0 759.2 1034.0 759.5C1026.0 759.8 1016.7 761.3 1010.0 763.2C1003.3 765.1 999.3 766.8 994.0 770.7C988.7 774.6 986.0 779.4 978.0 786.7C970.0 794.0 956.7 806.4 946.0 814.5C935.3 822.6 924.2 829.6 914.0 835.5C903.8 841.4 894.4 845.2 885.0 850.0C875.6 854.8 866.2 859.3 857.9 864.0C849.6 868.7 843.0 872.8 835.0 878.0C827.0 883.2 816.8 889.6 809.9 895.1C803.0 900.6 798.7 905.5 793.9 911.1C789.1 916.7 783.8 922.6 781.1 928.7C778.4 934.8 778.7 940.7 777.9 947.9C777.1 955.1 777.0 963.9 776.3 971.9C775.6 979.9 775.2 989.2 773.9 995.9C772.6 1002.6 770.0 1006.6 768.3 1011.9C766.6 1017.2 765.1 1022.6 763.5 1027.9C761.9 1033.2 760.3 1038.6 758.7 1043.9C757.1 1049.2 755.6 1054.3 754.0 1059.5C752.4 1064.7 750.8 1069.9 749.0 1075.0C747.2 1080.1 744.8 1084.8 743.0 1090.0C741.2 1095.2 739.7 1100.7 738.0 1106.0C736.3 1111.3 734.7 1116.3 733.0 1122.0C731.3 1127.7 729.5 1133.3 728.0 1140.0C726.5 1146.7 724.6 1155.7 723.9 1162.0C723.2 1168.3 723.5 1172.6 723.6 1177.9C723.8 1183.2 723.7 1188.6 724.8 1193.9C725.9 1199.2 727.7 1204.6 730.0 1209.9C732.3 1215.2 735.3 1220.6 738.8 1225.9C742.3 1231.2 746.7 1236.6 750.8 1241.9C754.9 1247.2 759.2 1252.6 763.5 1257.9C767.8 1263.2 772.0 1268.6 776.3 1273.9C780.6 1279.2 785.2 1284.6 789.1 1289.9C793.0 1295.2 796.4 1300.6 799.5 1305.9C802.6 1311.2 805.4 1316.7 808.0 1321.9C810.6 1327.1 811.7 1330.7 815.0 1337.0C818.3 1343.3 824.0 1352.2 828.0 1360.0C832.0 1367.8 836.0 1377.1 839.2 1384.0C842.4 1390.9 844.3 1396.5 847.2 1401.5C850.1 1406.5 853.3 1410.0 856.8 1414.3C860.3 1418.6 863.5 1423.1 868.0 1427.1C872.5 1431.1 877.4 1435.1 884.0 1438.3C890.6 1441.5 899.9 1444.0 907.9 1446.3C915.9 1448.6 923.9 1450.4 931.9 1451.9C939.9 1453.4 947.9 1453.9 955.9 1455.1C963.9 1456.3 971.9 1457.5 979.9 1459.1C987.9 1460.7 995.9 1462.6 1003.9 1464.7C1011.9 1466.8 1019.9 1469.6 1027.9 1471.9C1035.9 1474.2 1044.2 1476.2 1051.9 1478.5C1059.6 1480.8 1066.3 1483.0 1074.0 1485.5C1081.7 1488.0 1090.0 1491.2 1098.0 1493.5C1106.0 1495.8 1114.0 1498.3 1122.0 1499.1C1130.0 1499.9 1138.0 1499.2 1146.0 1498.3C1154.0 1497.4 1163.3 1495.4 1170.0 1493.5C1176.7 1491.6 1180.7 1490.0 1186.0 1487.1C1191.3 1484.2 1196.7 1479.9 1202.0 1475.9C1207.3 1471.9 1212.7 1467.6 1218.0 1463.1C1223.3 1458.6 1228.7 1453.2 1234.0 1448.7C1239.3 1444.2 1244.7 1440.4 1250.0 1435.9C1255.3 1431.4 1261.2 1425.5 1266.0 1421.5C1270.8 1417.5 1274.7 1414.7 1278.7 1412.0C1282.7 1409.3 1286.0 1407.9 1290.0 1405.5C1294.0 1403.1 1298.2 1400.2 1303.0 1397.5C1307.8 1394.8 1313.4 1391.9 1318.6 1389.0C1323.8 1386.1 1329.3 1382.5 1334.0 1380.0C1338.7 1377.5 1344.8 1375.0 1347.0 1374.0" fill="none" stroke="#ffff00" stroke-width="7.5" stroke-linejoin="round" />
<circle cx="1347.3" cy="1374.2" r="13.2" fill="none" stroke="#ffff00" stroke-width="10"/>
<path d="M1463.4 1119.1C1460.7 1115.9 1451.3 1105.8 1447.0 1100.0C1442.7 1094.2 1440.4 1090.7 1437.5 1084.0C1434.6 1077.3 1432.7 1069.3 1429.5 1060.0C1426.3 1050.7 1422.3 1038.7 1418.3 1028.0C1414.3 1017.3 1409.5 1006.7 1405.5 996.0C1401.5 985.3 1398.4 974.7 1394.4 964.0C1390.4 953.3 1385.9 942.7 1381.6 932.0C1377.3 921.3 1372.2 908.7 1368.8 900.0C1365.4 891.3 1363.6 887.1 1361.0 880.0C1358.4 872.9 1356.8 865.8 1353.1 857.5C1349.4 849.2 1343.2 837.0 1338.7 830.3C1334.2 823.6 1330.8 821.5 1326.0 817.5C1321.2 813.5 1315.3 809.4 1310.0 806.3C1304.7 803.2 1300.7 801.1 1294.0 799.1C1287.3 797.1 1278.0 795.2 1270.0 794.3C1262.0 793.4 1254.0 793.9 1246.0 793.9C1238.0 793.9 1230.0 794.5 1222.0 794.3C1214.0 794.1 1206.0 793.6 1198.0 792.7C1190.0 791.8 1182.0 790.4 1174.0 788.7C1166.0 787.0 1157.6 784.9 1150.0 782.3C1142.4 779.6 1135.0 775.8 1128.3 772.8C1121.6 769.8 1116.5 766.9 1110.0 764.0C1103.5 761.1 1096.4 757.5 1089.4 755.2C1082.4 752.9 1075.1 750.9 1068.0 750.0C1060.9 749.1 1054.2 749.3 1046.7 749.6C1039.2 749.9 1030.2 750.5 1022.7 752.0C1015.2 753.5 1008.1 754.7 1002.0 758.4C995.9 762.1 991.3 768.8 986.0 774.4C980.7 780.0 975.7 786.6 970.0 792.0C964.3 797.4 959.3 801.6 952.0 806.8C944.7 812.0 934.5 817.9 926.0 823.0C917.5 828.1 909.8 832.8 901.1 837.6C892.4 842.4 882.4 847.5 873.9 852.0C865.4 856.5 857.0 861.2 849.9 864.8C842.8 868.4 839.5 868.0 831.5 873.6C823.5 879.2 809.2 891.8 801.9 898.3C794.6 904.8 791.5 907.9 787.5 912.7C783.5 917.5 779.9 921.8 777.9 927.1C775.9 932.4 776.3 938.6 775.5 944.7C774.7 950.8 773.6 958.0 773.1 963.9C772.6 969.8 772.4 973.2 772.3 979.9C772.2 986.6 772.5 996.4 772.3 1003.9C772.1 1011.4 771.8 1017.3 771.0 1025.0C770.2 1032.7 768.9 1043.2 767.5 1050.0C766.1 1056.8 764.7 1059.3 762.7 1066.0C760.7 1072.7 758.1 1082.0 755.5 1090.0C752.9 1098.0 749.8 1105.6 746.8 1114.0C743.8 1122.4 739.2 1132.4 737.2 1140.4C735.2 1148.4 735.5 1155.8 734.8 1162.0C734.1 1168.2 733.3 1172.6 733.2 1177.9C733.1 1183.2 733.2 1188.6 734.0 1193.9C734.8 1199.2 736.0 1204.6 738.0 1209.9C740.0 1215.2 742.5 1220.6 746.0 1225.9C749.5 1231.2 754.5 1236.6 758.7 1241.9C763.0 1247.2 767.1 1252.6 771.5 1257.9C775.9 1263.2 780.6 1268.6 785.1 1273.9C789.6 1279.2 794.3 1284.6 798.7 1289.9C803.1 1295.2 807.3 1299.9 811.5 1305.9C815.7 1311.9 820.4 1320.0 824.0 1326.0C827.6 1332.0 830.2 1337.0 833.0 1342.0C835.8 1347.0 837.8 1350.9 841.0 1356.0C844.2 1361.1 848.5 1366.3 852.0 1372.8C855.5 1379.3 857.5 1387.3 862.0 1394.8C866.5 1402.2 874.2 1411.8 879.2 1417.5C884.2 1423.2 887.5 1425.0 892.0 1428.7C896.5 1432.4 901.5 1436.7 906.3 1439.9C911.1 1443.1 915.1 1445.8 920.7 1447.9C926.3 1450.0 932.7 1451.6 939.9 1452.7C947.1 1453.8 955.9 1454.0 963.9 1454.3C971.9 1454.6 979.9 1454.2 987.9 1454.3C995.9 1454.4 1003.9 1454.6 1011.9 1455.1C1019.9 1455.6 1028.7 1456.4 1035.9 1457.5C1043.1 1458.6 1048.7 1459.8 1055.0 1461.5C1061.3 1463.2 1066.8 1465.4 1074.0 1467.5C1081.2 1469.6 1090.8 1472.4 1098.0 1474.3C1105.2 1476.2 1111.6 1477.9 1117.2 1479.1C1122.8 1480.3 1125.5 1480.4 1131.6 1481.5C1137.7 1482.6 1147.6 1484.7 1154.0 1485.5C1160.4 1486.3 1164.7 1486.6 1170.0 1486.3C1175.3 1486.0 1180.7 1484.8 1186.0 1483.9C1191.3 1483.0 1196.7 1482.6 1202.0 1480.7C1207.3 1478.8 1212.7 1476.2 1218.0 1472.7C1223.3 1469.2 1229.5 1463.9 1234.0 1459.9C1238.5 1455.9 1241.1 1452.4 1245.1 1448.7C1249.1 1445.0 1253.8 1441.0 1257.9 1437.5C1262.0 1434.0 1264.6 1432.4 1269.6 1427.4C1274.6 1422.4 1282.4 1412.7 1288.0 1407.7C1293.6 1402.7 1297.9 1400.6 1303.0 1397.5C1308.1 1394.4 1313.4 1392.4 1318.6 1389.0C1323.8 1385.6 1327.6 1381.5 1334.0 1377.3C1340.4 1373.1 1349.0 1368.8 1357.0 1364.0C1365.0 1359.2 1377.7 1351.2 1381.8 1348.6" fill="none" stroke="#ff0000" stroke-width="10.3" stroke-linejoin="round" pathLength="2061.6" stroke-dasharray="31 5.5 16 5.5"/>
<circle cx="1347.3" cy="1374.2" r="45.0" fill="none" stroke="#ffff00" stroke-width="10"/>
<circle cx="1377.2" cy="1349.5" r="45.8" fill="none" stroke="#000" stroke-width="3.5"/>
<path d="M1381.8 1348.6L1417.5 1328.4" stroke="#000" stroke-width="4.5" fill="none"/>
<circle cx="1383.1" cy="1349.5" r="45.3" fill="none" stroke="#ff0000" stroke-width="10"/>
<g stroke="#b40f2d" stroke-width="3.2" fill="none"><path d="M1381.8 1348.6L1413.5 1162.75"/><path d="M1381.8 1348.6L1505.5 1263.25"/><path d="M1381.8 1348.6L1573 1361"/><path d="M1381.8 1348.6L1583 1382.75"/></g>
<text class="ik" transform="translate(316.3 458.6) scale(0.97 1.0)" text-anchor="start">91</text>
<text class="ik" transform="translate(316.3 650.5) scale(0.97 1.0)" text-anchor="start">86</text>
<text class="ik" transform="translate(316.3 841.0) scale(0.97 1.0)" text-anchor="start">81</text>
<text class="ik" transform="translate(373.3 904.5) scale(0.97 1.0)" text-anchor="start">41</text>
<text class="ik" transform="translate(566.5 904.5) scale(0.97 1.0)" text-anchor="start">46</text>
<text class="ik" transform="translate(758.5 904.5) scale(0.97 1.0)" text-anchor="start">51</text>
<circle cx="1463.4" cy="1119.1" r="18.2" fill="#ff0000"/>
<circle cx="1353.1" cy="857.5" r="18.0" fill="#ff0000"/>
<circle cx="1089.4" cy="755.2" r="17.8" fill="#ff0000"/>
<circle cx="831.5" cy="873.6" r="17.8" fill="#ff0000"/>
<circle cx="737.2" cy="1140.4" r="18.0" fill="#ff0000"/>
<circle cx="862.0" cy="1394.8" r="17.8" fill="#ff0000"/>
<circle cx="1131.6" cy="1481.5" r="17.7" fill="#ff0000"/>
<circle cx="1381.8" cy="1348.6" r="18.1" fill="#ff0000"/>
<g fill="none" stroke="#000"><path d="M1005.5 798.5V709.6H1158.5V798.5Z" stroke-width="4.8" stroke-dasharray="25.6 15.4"/><path d="M774.5 663.7L974 733" stroke-width="2.8"/><path d="M1003.7 741.3L966.1 710.9L972.2 732.2L955.2 743.4Z" fill="#000" stroke="none"/></g>
<rect x="391.8" y="428.5" width="383" height="384" fill="#fff" stroke="none"/>
<path d="M389.3 503.3C393.9 502.6 407.7 500.7 417.3 499.5C426.8 498.3 437.7 495.9 446.6 496.1C455.5 496.3 463.0 499.4 470.6 500.6C478.1 501.8 484.8 502.4 491.9 503.3C499.0 504.2 505.2 504.7 513.2 505.9C521.2 507.2 531.0 509.2 539.9 510.7C548.8 512.3 557.6 512.7 566.5 515.3C575.4 517.8 584.3 521.9 593.2 525.9C602.1 529.9 610.9 535.9 619.8 539.3C628.7 542.6 637.6 542.6 646.5 545.9C655.4 549.2 664.3 554.8 673.1 559.2C682.0 563.7 690.9 567.7 699.8 572.6C708.7 577.5 717.6 583.9 726.4 588.6C735.3 593.2 744.7 597.2 753.1 600.6C761.5 603.9 773.1 607.2 777.1 608.5" fill="none" stroke="#0000ff" stroke-width="8" stroke-linejoin="round" stroke-linecap="round"/>
<path d="M389.3 508.3C393.9 507.6 407.7 505.7 417.3 504.5C426.8 503.3 437.7 500.9 446.6 501.1C455.5 501.3 463.0 504.4 470.6 505.6C478.1 506.8 484.8 507.4 491.9 508.3C499.0 509.2 505.2 509.7 513.2 510.9C521.2 512.2 531.0 514.2 539.9 515.7C548.8 517.3 557.6 517.7 566.5 520.3C575.4 522.8 584.3 526.9 593.2 530.9C602.1 534.9 610.9 540.9 619.8 544.3C628.7 547.6 637.6 547.6 646.5 550.9C655.4 554.2 664.3 559.8 673.1 564.2C682.0 568.7 690.9 572.7 699.8 577.6C708.7 582.5 717.6 588.9 726.4 593.6C735.3 598.2 744.7 602.2 753.1 605.6C761.5 608.9 773.1 612.2 777.1 613.5" fill="none" stroke="#00ff00" stroke-width="10" stroke-linejoin="round" stroke-linecap="round"/>
<path d="M389.3 517.8C393.9 517.1 407.7 515.2 417.3 514.0C426.8 512.8 437.7 510.4 446.6 510.6C455.5 510.8 463.0 513.9 470.6 515.1C478.1 516.3 484.8 516.9 491.9 517.8C499.0 518.7 505.2 519.2 513.2 520.4C521.2 521.7 531.0 523.7 539.9 525.2C548.8 526.8 557.6 527.2 566.5 529.8C575.4 532.3 584.3 536.4 593.2 540.4C602.1 544.4 610.9 550.4 619.8 553.8C628.7 557.1 637.6 557.1 646.5 560.4C655.4 563.7 664.3 569.3 673.1 573.7C682.0 578.2 690.9 582.2 699.8 587.1C708.7 592.0 717.6 598.4 726.4 603.1C735.3 607.7 744.7 611.7 753.1 615.1C761.5 618.4 773.1 621.7 777.1 623.0" fill="none" stroke="#ff6a1e" stroke-width="10.7" stroke-linejoin="round" stroke-linecap="round"/>
<path d="M389.3 639.9C394.4 640.3 410.4 641.4 419.9 642.5C429.5 643.6 437.7 644.5 446.6 646.5C455.5 648.5 464.4 652.2 473.2 654.5C482.1 656.9 491.0 658.2 499.9 660.7C508.8 663.1 517.7 666.0 526.5 669.2C535.4 672.4 544.3 676.1 553.2 679.9C562.1 683.6 573.2 688.5 579.9 691.8C586.5 695.2 586.5 696.7 593.2 699.8C599.8 702.9 610.9 707.2 619.8 710.5C628.7 713.8 637.6 716.3 646.5 719.8C655.4 723.4 664.3 728.3 673.1 731.8C682.0 735.4 690.9 738.3 699.8 741.2C708.7 744.0 717.6 745.6 726.4 749.1C735.3 752.7 744.7 758.8 753.1 762.5C761.5 766.1 773.1 769.6 777.1 771.0" fill="none" stroke="#ffff00" stroke-width="10" stroke-linejoin="round" stroke-linecap="round"/>
<path d="M397.3 586.6C403.3 587.4 422.8 589.6 433.3 591.4C443.7 593.1 451.0 595.3 459.9 597.2C468.8 599.2 477.7 600.9 486.6 603.1C495.5 605.3 504.3 607.5 513.2 610.6C522.1 613.6 531.0 617.8 539.9 621.2C548.8 624.7 557.6 628.0 566.5 631.3C575.4 634.7 584.3 638.0 593.2 641.2C602.1 644.4 610.9 647.2 619.8 650.5C628.7 653.9 637.6 657.7 646.5 661.2C655.4 664.7 664.3 668.0 673.1 671.3C682.0 674.7 690.9 677.5 699.8 681.2C708.7 684.8 717.6 689.4 726.4 693.2C735.3 697.0 744.9 700.7 753.1 703.8C761.3 706.9 772.0 710.5 775.7 711.8" fill="none" stroke="#000" stroke-width="8.6" stroke-linejoin="round" stroke-dasharray="30 6.5 16 6.5"/>
<path d="M390.6 599.9C395.5 600.6 410.6 602.1 419.9 603.9C429.3 605.7 437.7 608.6 446.6 610.6C455.5 612.6 464.4 613.7 473.2 615.9C482.1 618.1 491.0 620.8 499.9 623.9C508.8 627.0 517.7 631.0 526.5 634.5C535.4 638.1 544.3 641.6 553.2 645.2C562.1 648.8 571.0 652.3 579.9 655.9C588.7 659.4 597.6 663.2 606.5 666.5C615.4 669.9 624.3 672.8 633.2 675.9C642.0 678.9 650.9 681.5 659.8 684.6C668.7 687.8 677.6 691.1 686.5 694.5C695.3 697.9 704.2 701.4 713.1 705.2C722.0 708.9 729.3 713.3 739.8 717.2C750.2 721.0 769.7 726.5 775.7 728.4" fill="none" stroke="#ff0000" stroke-width="8.4" stroke-linejoin="round" stroke-dasharray="28 6.5 15 7" stroke-dashoffset="23"/>
<circle cx="538" cy="621.2" r="20.6" fill="#ff0000"/><g fill="none" stroke="#1c1c1c" stroke-width="2.9"><rect x="391.8" y="428.5" width="383" height="384"/><path d="M583.3 428.5v4.5M583.3 812.5v-4.5M391.8 620.7h4.5"/></g>
<g id="legend">
<rect x="1040.3" y="40.3" width="833" height="636" fill="#fff" stroke="#1c1c1c" stroke-width="2.9"/>
<path d="M1102 123H1218.2" stroke="#000" stroke-width="12" stroke-dasharray="40 8 20 9"/>
<path d="M1104.7 199H1224.2" stroke="#0000ff" stroke-width="8" stroke-linecap="round"/>
<path d="M1105.7 270H1225" stroke="#00ff00" stroke-width="10" stroke-linecap="round"/>
<path d="M1107.7 358H1226" stroke="#ff6a1e" stroke-width="10" stroke-linecap="round"/>
<path d="M1105.2 446.6H1225.4" stroke="#ffff00" stroke-width="7" stroke-linecap="round"/>
<path d="M1104 557.5H1225" stroke="#ff0000" stroke-width="9.3" stroke-dasharray="30 6 16 6"/>
<text class="lg" x="1241.0" y="141.8">True path</text>
<text class="lg" x="1243.0" y="220.8">EKF-SLAM</text>
<text class="lg" x="1245.0" y="297.5">UKF-SLAM</text>
<text class="lg" x="1245.6" y="380.4">SRUKF-SLAM</text>
<text class="lg" x="1238.0" y="469.7">MCUKF-SLAM</text>
<text class="lg" x="1242.5" y="547.7">The proposed</text>
<text class="lg" x="1242.0" y="637.5">MCSRUKF-SLAM</text>
</g>
</svg></body></html>
